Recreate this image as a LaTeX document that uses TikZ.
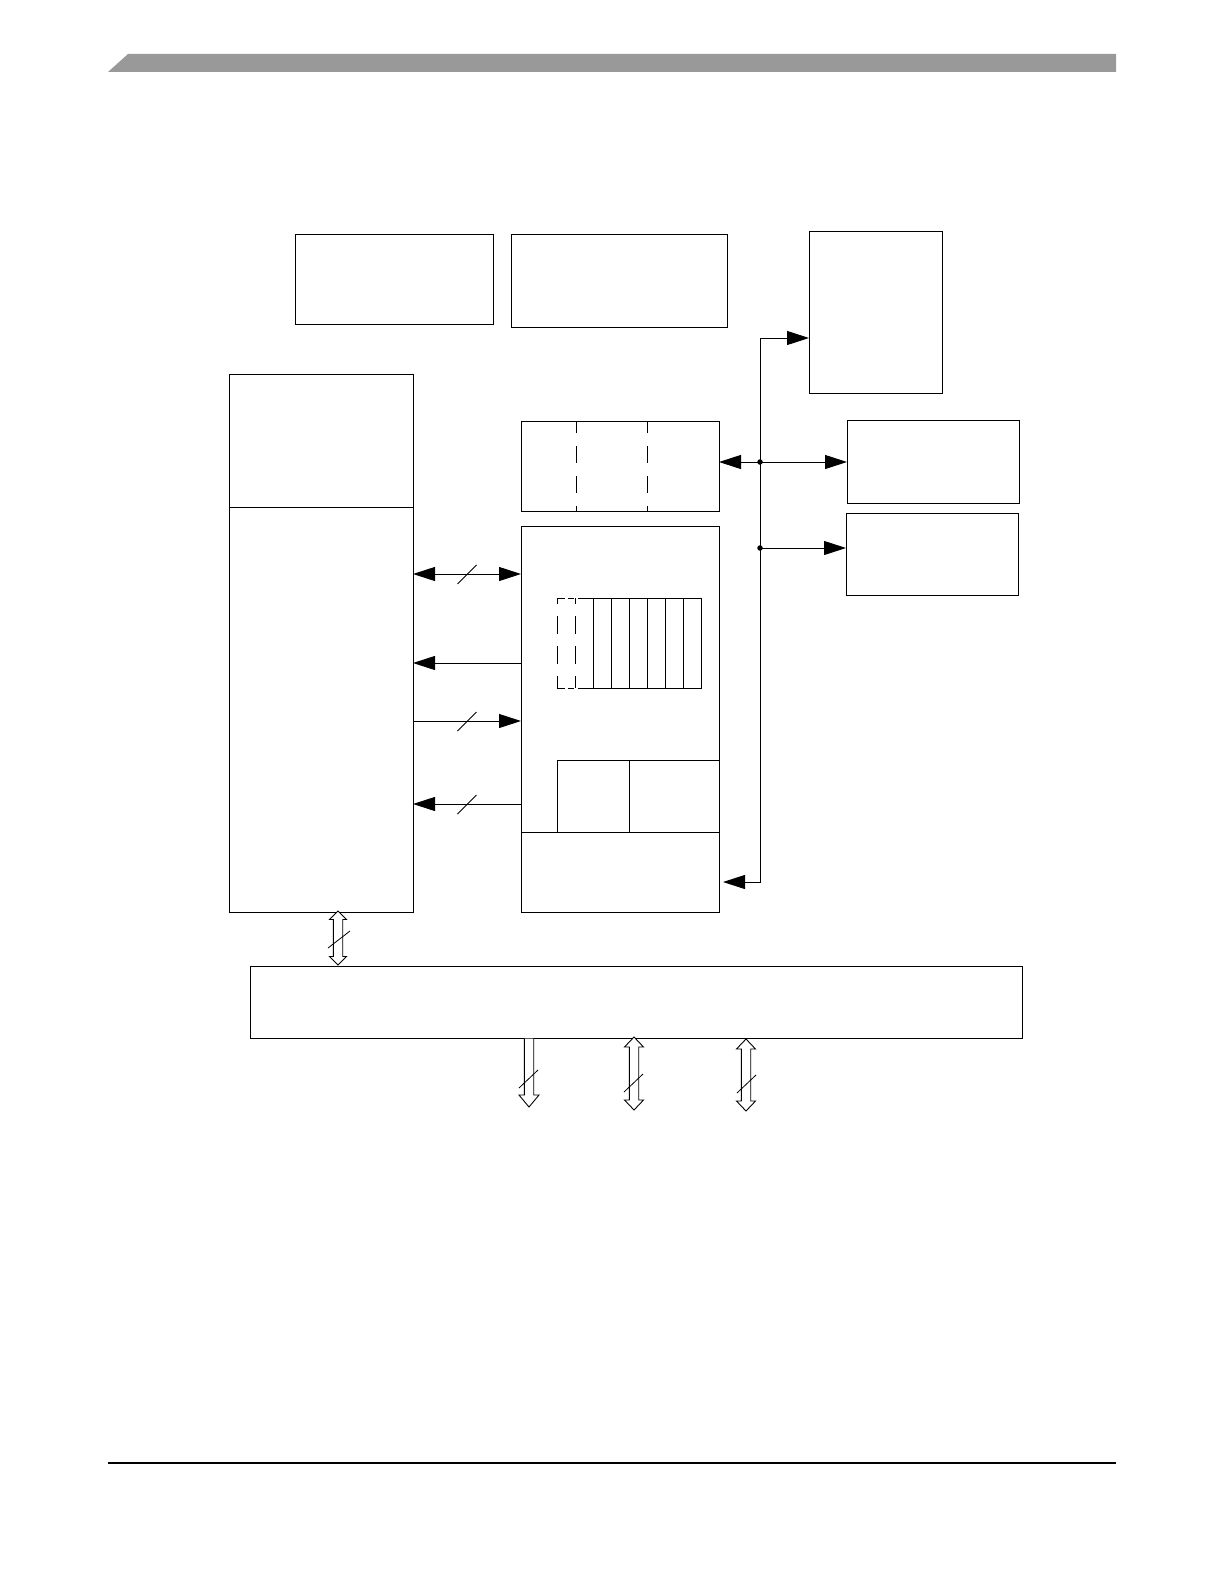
\documentclass[tikz,border=0pt]{standalone}
\usetikzlibrary{arrows.meta}
\tikzset{
  box/.style={draw, line width=1pt, inner sep=0pt, outer sep=0pt, anchor=north west},
  conn/.style={line width=1pt},
  bigtip/.tip={Triangle[length=22pt,width=14pt]},
  slashmark/.style={line width=0.8pt},
  hollow/.style={draw, line width=0.9pt, fill=white, line join=miter},
  junction/.style={circle, fill, inner sep=0pt, minimum size=5.5pt},
  dsh/.style={line width=1pt, dash pattern=on 17pt off 13pt, dash phase=5pt},
  rdsh/.style={line width=1pt, dash pattern=on 18pt off 12pt, dash phase=12pt},
}
\newcommand\hollowdbl[5]{%
  \draw[hollow] (#1,#2) -- ({#1+#5},{#2+#4}) -- ({#1+4.7},{#2+#4}) -- ({#1+4.7},{#3-#4})
   -- ({#1+#5},{#3-#4}) -- (#1,#3) -- ({#1-#5},{#3-#4}) -- ({#1-4.7},{#3-#4})
   -- ({#1-4.7},{#2+#4}) -- ({#1-#5},{#2+#4}) -- cycle;}
\newcommand\slashat[2]{\draw[slashmark] ({#1-9.5},{#2+10}) -- ({#1+9.5},{#2-9});}
\begin{document}
\begin{tikzpicture}[x=1pt,y=-1pt]
\useasboundingbox (0,0) rectangle (1224,1584);
\fill[white] (0,0) rectangle (1224,1584);
% header bar and footer line
\fill[black!40] (108,72) -- (128,54) -- (1116,54) -- (1116,72) -- cycle;
\draw[line width=1.3pt] (108,1463) -- (1116,1463);

% boxes
\node[box, minimum width=198pt, minimum height=90pt] (boxA) at (295,234) {};
\node[box, minimum width=216pt, minimum height=93pt] (boxB) at (511,234) {};
\node[box, minimum width=133pt, minimum height=162pt] (boxC) at (809,231) {};
\node[box, minimum width=184pt, minimum height=538pt] (left) at (229,374) {};
\node[box, minimum width=198pt, minimum height=90pt] (dbox) at (521,421) {};
\node[box, minimum width=198pt, minimum height=386pt] (mid) at (521,526) {};
\node[box, minimum width=172pt, minimum height=83pt] (boxD) at (847,420) {};
\node[box, minimum width=172pt, minimum height=82pt] (boxE) at (846,513) {};
\node[box, minimum width=772pt, minimum height=72pt] (bus) at (250,966) {};

% internal lines
\draw[conn] (left.west |- 0,507) -- (left.east |- 0,507);
\draw[dsh] (576,421) -- (576,511);
\draw[dsh] (647,421) -- (647,511);
\draw[conn] (mid.west |- 0,832) -- (mid.east |- 0,832);
\draw[conn] (557,832) -- (557,760) -- (mid.east |- 0,760);
\draw[conn] (629,760) -- (629,832);

% register stack
\draw[conn] (593,598) rectangle (701,688);
\foreach \x in {611,629,647,665,683} \draw[conn] (\x,598) -- (\x,688);
\draw[rdsh] (557,598) -- (557,688);
\draw[rdsh] (575,598) -- (575,688);
\draw[line width=1pt, dash pattern=on 8pt off 3pt on 6pt off 4pt on 15pt] (557,598) -- (593,598);
\draw[line width=1pt, dash pattern=on 8pt off 3pt on 6pt off 4pt on 15pt] (557,688) -- (593,688);

% connectors between left and mid
\draw[conn, bigtip-bigtip] (left.east |- 0,574) -- (mid.west |- 0,574);
\slashat{467}{574}
\draw[conn, -bigtip] (mid.west |- 0,663) -- (left.east |- 0,663);
\draw[conn, -bigtip] (left.east |- 0,721) -- (mid.west |- 0,721);
\slashat{467}{721}
\draw[conn, -bigtip] (mid.west |- 0,804) -- (left.east |- 0,804);
\slashat{467}{804}

% right bus
\coordinate (j1) at (760,462);
\coordinate (j2) at (760,548);
\draw[conn, bigtip-bigtip] ([xshift=4pt]mid.east |- 0,882) -- (760,882) -- (760,338) -- (boxC.west |- 0,338);
\draw[conn, bigtip-bigtip] (dbox.east |- j1) -- (boxD.west |- j1);
\draw[conn, -bigtip] (j2) -- (boxE.west |- j2);
\node[junction] at (j1) {};
\node[junction] at (j2) {};

% hollow arrows
\hollowdbl{338}{911}{965}{8.5}{8.5}
\draw[slashmark] (328,948) -- (350,931);
\draw[hollow] (524.3,1038.6) -- (524.3,1095) -- (519,1095) -- (529,1107) -- (539,1095) -- (533.7,1095) -- (533.7,1038.6);
\draw[slashmark] (519,1088) -- (538,1070);
\hollowdbl{634}{1037}{1110}{10}{9.5}
\draw[slashmark] (624,1092) -- (643,1074);
\hollowdbl{746}{1039}{1111}{10}{9.5}
\draw[slashmark] (737,1093) -- (756,1075);
\end{tikzpicture}
\end{document}
